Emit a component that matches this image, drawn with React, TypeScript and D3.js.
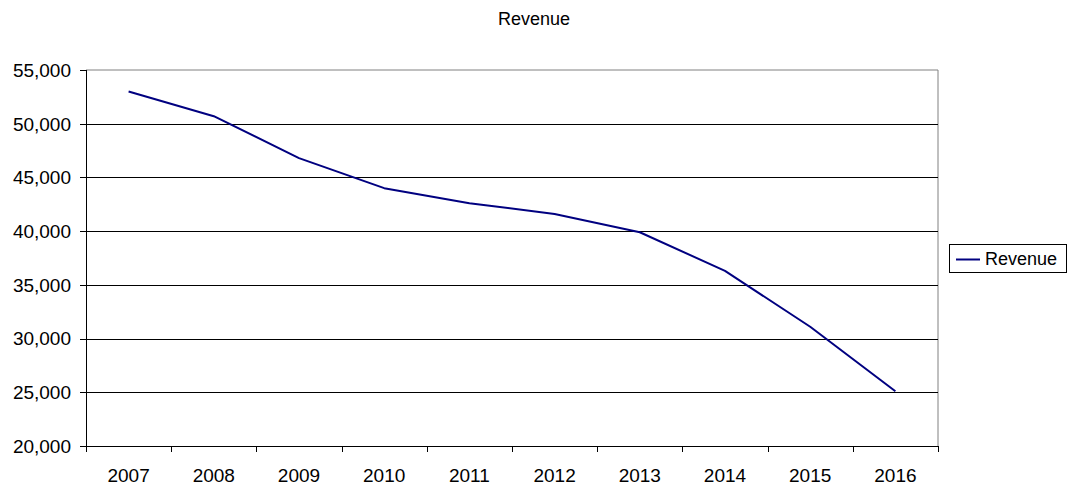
import React from "react";
import * as d3 from "d3";

const years = ["2007", "2008", "2009", "2010", "2011", "2012", "2013", "2014", "2015", "2016"];
const revenue = [53000, 50700, 46800, 44000, 42600, 41600, 39900, 36300, 31100, 25100];
const yTicks = [20000, 25000, 30000, 35000, 40000, 45000, 50000, 55000];
const title = "Revenue";
const seriesName = "Revenue";

const W = 1071;
const H = 496;
const left = 86;
const right = 938;
const top = 70;
const bottom = 446;
const font = "'Liberation Sans', Arial, sans-serif";

export default function App() {
  const x = d3.scaleBand<string>().domain(years).range([left, right]);
  const y = d3.scaleLinear().domain([20000, 55000]).range([bottom, top]);
  const fmt = d3.format(",");
  const line = d3
    .line<number>()
    .x((_, i) => (x(years[i]) as number) + x.bandwidth() / 2)
    .y((d) => y(d));
  const tickXs = [...years.map((yr) => x(yr) as number), right];

  return (
    <svg
      width={W}
      height={H}
      style={{ position: "absolute", left: 0, top: 0, background: "#fff" }}
      fontFamily={font}
    >
      <rect x={0} y={0} width={W} height={H} fill="#fff" />
      <text x={534} y={25} textAnchor="middle" fontSize={18} fill="#000">
        {title}
      </text>
      {/* plot border (top and right grey) */}
      <line x1={left} x2={right} y1={top} y2={top} stroke="#808080" strokeWidth={1} />
      <line x1={right} x2={right} y1={top} y2={bottom} stroke="#808080" strokeWidth={1} />
      {/* gridlines */}
      {yTicks.slice(1, -1).map((t) => (
        <line key={t} x1={left} x2={right} y1={Math.round(y(t)) + 0.5} y2={Math.round(y(t)) + 0.5} stroke="#000" strokeWidth={1} />
      ))}
      {/* y axis */}
      <line x1={left + 0.5} x2={left + 0.5} y1={top} y2={bottom} stroke="#000" strokeWidth={1} />
      {yTicks.map((t) => (
        <g key={t}>
          <line x1={left - 6} x2={left} y1={Math.round(y(t)) + 0.5} y2={Math.round(y(t)) + 0.5} stroke="#000" strokeWidth={1} />
          <text x={71} y={y(t)} dy="0.36em" textAnchor="end" fontSize={19} fill="#000">
            {fmt(t)}
          </text>
        </g>
      ))}
      {/* x axis */}
      <line x1={left} x2={right} y1={bottom + 0.5} y2={bottom + 0.5} stroke="#000" strokeWidth={1} />
      {tickXs.map((tx, i) => (
        <line key={i} x1={Math.round(tx) + 0.5} x2={Math.round(tx) + 0.5} y1={bottom} y2={bottom + 6} stroke="#000" strokeWidth={1} />
      ))}
      {years.map((yr) => (
        <text key={yr} x={(x(yr) as number) + x.bandwidth() / 2} y={482} textAnchor="middle" fontSize={19} fill="#000">
          {yr}
        </text>
      ))}
      {/* series */}
      <path d={line(revenue) || ""} fill="none" stroke="#000080" strokeWidth={2} strokeLinejoin="round" />
      {/* legend */}
      <rect x={949.5} y={244.5} width={117} height={28} fill="#fff" stroke="#000" strokeWidth={1} />
      <line x1={956} x2={980} y1={259.5} y2={259.5} stroke="#000080" strokeWidth={2} />
      <text x={985} y={259} dy="0.36em" fontSize={18} fill="#000">
        {seriesName}
      </text>
    </svg>
  );
}
